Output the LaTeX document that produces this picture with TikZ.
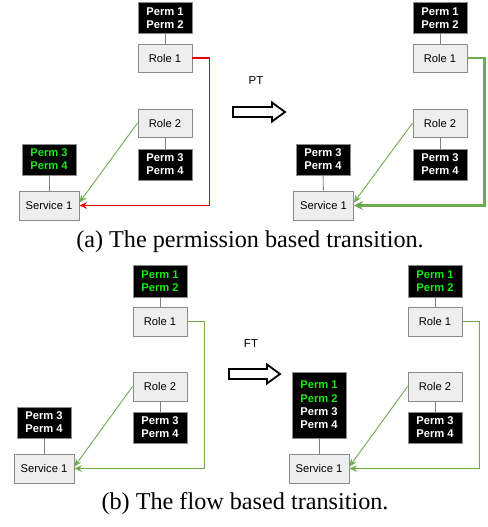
\documentclass[tikz,border=0pt]{standalone}
\usepackage{fontspec}
\setmainfont{Liberation Serif}
\newfontfamily\arialfont{Liberation Sans}
\usetikzlibrary{arrows.meta}
\definecolor{boxfill}{HTML}{EEEEEE}
\definecolor{boxline}{HTML}{8A8A8A}
\definecolor{permgreen}{RGB}{20,235,20}
\definecolor{arrgreen}{RGB}{110,170,80}
\definecolor{arrred}{RGB}{230,0,0}
\tikzset{
  rolebox/.style={draw=boxline, fill=boxfill, line width=0.9pt, inner sep=0pt,
    minimum width=54pt, minimum height=28pt, font=\arialfont\fontsize{11.2}{13}\selectfont},
  servbox/.style={rolebox, minimum width=60pt, minimum height=29pt},
  permbox/.style={draw=boxline, fill=black, text=white, line width=0.9pt, inner sep=0pt,
    minimum width=54pt, minimum height=31pt, align=center,
    font=\arialfont\bfseries\fontsize{11.2}{13}\selectfont},
  gperm/.style={permbox, text=permgreen},
  link/.style={draw=gray, line width=0.9pt},
  thinarr/.style={draw=arrgreen, line width=0.9pt, -{Stealth[length=7.5pt,width=6.5pt,inset=2.5pt]}},
  redarr/.style={color=arrred, line width=1.2pt, -{Stealth[length=7.5pt,width=6.5pt,inset=2.5pt]}},
  thickarr/.style={draw=arrgreen, line width=2.4pt, -{Stealth[length=9pt,width=9pt,inset=3pt]}},
  hollow/.style={draw=black, fill=white, line width=1.8pt, line join=miter},
  lab/.style={font=\arialfont\fontsize{11.5}{13}\selectfont},
  captext/.style={font=\fontsize{24.2}{26}\selectfont, anchor=base, inner sep=0pt}
}
\begin{document}
\begin{tikzpicture}[x=1pt,y=-1pt]
\useasboundingbox (0,0) rectangle (487,527);
% ---------- (a) left ----------
\node[permbox] (ap12) at (165,18) {Perm 1\\Perm 2};
\node[rolebox] (ar1) at (165,58) {Role 1};
\node[rolebox] (ar2) at (165,123) {Role 2};
\node[permbox] (ap34) at (165,164.5) {Perm 3\\Perm 4};
\node[gperm] (asp) at (49,159.5) {Perm 3\\Perm 4};
\node[servbox] (as1) at (49,205.5) {Service 1};
\coordinate (redc) at (209.5,58);
\draw[link] (ap12) -- (ar1);
\draw[link] (ar2) -- (ap34);
\draw[link] (asp) -- (as1);
\draw[thinarr] (ar2.west) -- ([yshift=3pt]as1.east);
\draw[redarr] (ar1.east) -- (redc) |- (as1.east);
% PT arrow
\node[lab] (pt) at (256,81) {PT};
\draw[hollow] (233,107) -- (272,107) -- (272,102.5) -- (285,112) -- (272,121.5) -- (272,117) -- (233,117) -- cycle;
% ---------- (a) right ----------
\node[permbox] (bp12) at (440,18) {Perm 1\\Perm 2};
\node[rolebox] (br1) at (440,58) {Role 1};
\node[rolebox] (br2) at (440,123) {Role 2};
\node[permbox] (bp34) at (440,164.5) {Perm 3\\Perm 4};
\node[permbox] (bsp) at (323,159.5) {Perm 3\\Perm 4};
\node[servbox] (bs1) at (323.5,205.5) {Service 1};
\draw[link] (bp12) -- (br1);
\draw[link] (br2) -- (bp34);
\draw[link] (bsp) -- (bs1);
\draw[thinarr] (br2.west) -- ([yshift=3pt]bs1.east);
\draw[thickarr] (br1.east) -- ++(17,0) |- (bs1.east);
\node[captext] (capa) at (250,247) {(a) The permission based transition.};
% ---------- (b) left ----------
\node[gperm, minimum height=32pt] (cp12) at (160,281) {Perm 1\\Perm 2};
\node[rolebox, minimum height=29pt] (cr1) at (160,321.5) {Role 1};
\node[rolebox, minimum height=29pt] (cr2) at (160,386.5) {Role 2};
\node[permbox] (cp34) at (160,427.5) {Perm 3\\Perm 4};
\node[permbox] (csp) at (44,422.5) {Perm 3\\Perm 4};
\node[servbox] (cs1) at (44,468.5) {Service 1};
\draw[link] (cp12) -- (cr1);
\draw[link] (cr2) -- (cp34);
\draw[link] (csp) -- (cs1);
\draw[thinarr] (cr2.west) -- ([yshift=2pt]cs1.east);
\draw[thinarr] (cr1.east) -- ++(17,0) |- (cs1.east);
% FT arrow
\node[lab] (ft) at (251,344) {FT};
\draw[hollow] (229,369) -- (267,369) -- (267,364.5) -- (280,374) -- (267,383.5) -- (267,379) -- (229,379) -- cycle;
% ---------- (b) right ----------
\node[gperm, minimum height=32pt] (dp12) at (435,281) {Perm 1\\Perm 2};
\node[rolebox, minimum height=29pt] (dr1) at (435,321.5) {Role 1};
\node[rolebox, minimum height=29pt] (dr2) at (435,386.5) {Role 2};
\node[permbox] (dp34) at (435,427.5) {Perm 3\\Perm 4};
\node[permbox, minimum height=66pt, font=\arialfont\bfseries\fontsize{11.2}{13.3}\selectfont] (dsp) at (319,405)
  {\textcolor{permgreen}{Perm 1}\\\textcolor{permgreen}{Perm 2}\\Perm 3\\Perm 4};
\node[servbox] (ds1) at (319,468.5) {Service 1};
\draw[link] (dp12) -- (dr1);
\draw[link] (dr2) -- (dp34);
\draw[link] (dsp) -- (ds1);
\draw[thinarr] (dr2.west) -- ([yshift=2pt]ds1.east);
\draw[thinarr] (dr1.east) -- ++(17,0) |- (ds1.east);
\node[captext] (capb) at (245,509) {(b) The flow based transition.};
\end{tikzpicture}
\end{document}
